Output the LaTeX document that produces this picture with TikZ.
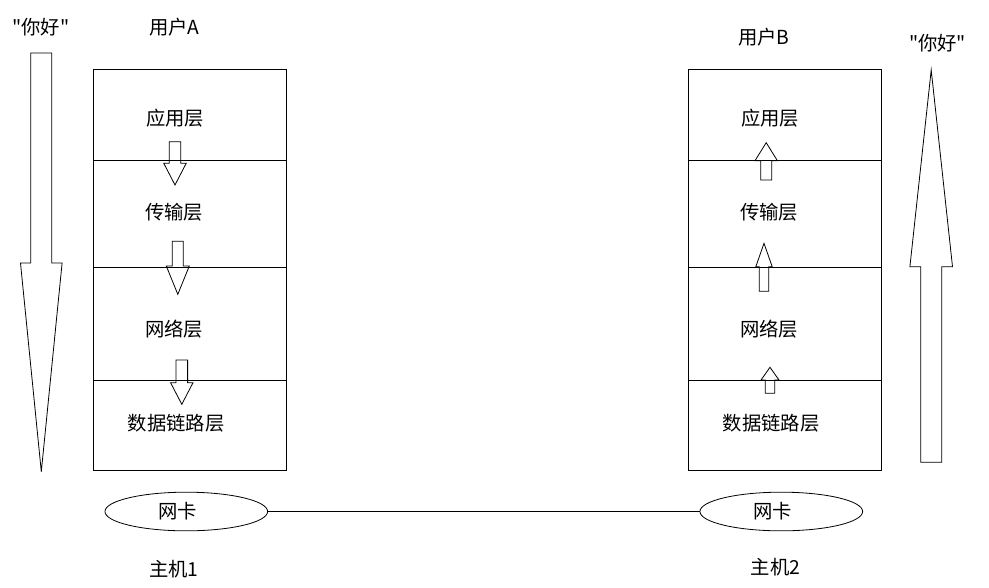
\documentclass[tikz,border=0pt]{standalone}
\usepackage{fontspec}
\newfontfamily\cjk{Noto Sans CJK SC}
\usetikzlibrary{shapes.geometric}
\begin{document}
\begin{tikzpicture}[x=0.75pt,y=-0.75pt,line width=0.6pt,
	lbl/.style={inner sep=0pt,font=\cjk\fontsize{14.5}{16}\selectfont},
	card/.style={draw,ellipse,minimum width=122pt,minimum height=29pt,inner sep=0pt}]
	\useasboundingbox (0,0) rectangle (989,587);
	\draw (93,69) rectangle (286,470) (93,160)--(286,160) (93,267)--(286,267) (93,380)--(286,380);
	\draw (688,69) rectangle (881,470) (688,160)--(881,160) (688,267)--(881,267) (688,380)--(881,380);
	\foreach \cx/\w/\b/\s/\h/\t in {41.3/10.5/53/263/20.8/471.7, 175/5.7/141.7/163.3/11.2/185,
		177.8/5.5/241.3/266/11.5/294.3, 181.8/5.8/360/382.7/11.2/404.3,
		931.2/10.5/462.3/266.7/21.3/70, 766.2/5.5/180/160.7/11.2/142.7,
		764/4.7/291.3/266.7/8.2/243.3, 770/4.7/393.3/380/9/367.3}
	\draw (\cx-\w,\b)--(\cx+\w,\b)--(\cx+\w,\s)--(\cx+\h,\s)--(\cx,\t)--(\cx-\h,\s)--(\cx-\w,\s)--cycle;
	\node[lbl] (hia) at (41,27) {"你好"};
	\node[lbl] (usra) at (174.5,27) {用户A};
	\node[lbl] (hib) at (937.5,43) {"你好"};
	\node[lbl] (usrb) at (764,37) {用户B};
	\node[lbl] (appa) at (175,118) {应用层};
	\node[lbl] (tpta) at (174,212) {传输层};
	\node[lbl] (neta) at (174,329) {网络层};
	\node[lbl] (dlla) at (176,423) {数据链路层};
	\node[lbl] (appb) at (770,118) {应用层};
	\node[lbl] (tptb) at (769,212) {传输层};
	\node[lbl] (netb) at (769,329) {网络层};
	\node[lbl] (dllb) at (771,423) {数据链路层};
	\node[card] (nica) at (186.3,511.5) {};
	\node[card] (nicb) at (781.3,511.5) {};
	\node[lbl] at (177.5,511) {网卡};
	\node[lbl] at (772.8,511) {网卡};
	\draw (nica)--(nicb);
	\node[lbl] (hosta) at (174,569) {主机1};
	\node[lbl] (hostb) at (775.5,567) {主机2};
\end{tikzpicture}
\end{document}
